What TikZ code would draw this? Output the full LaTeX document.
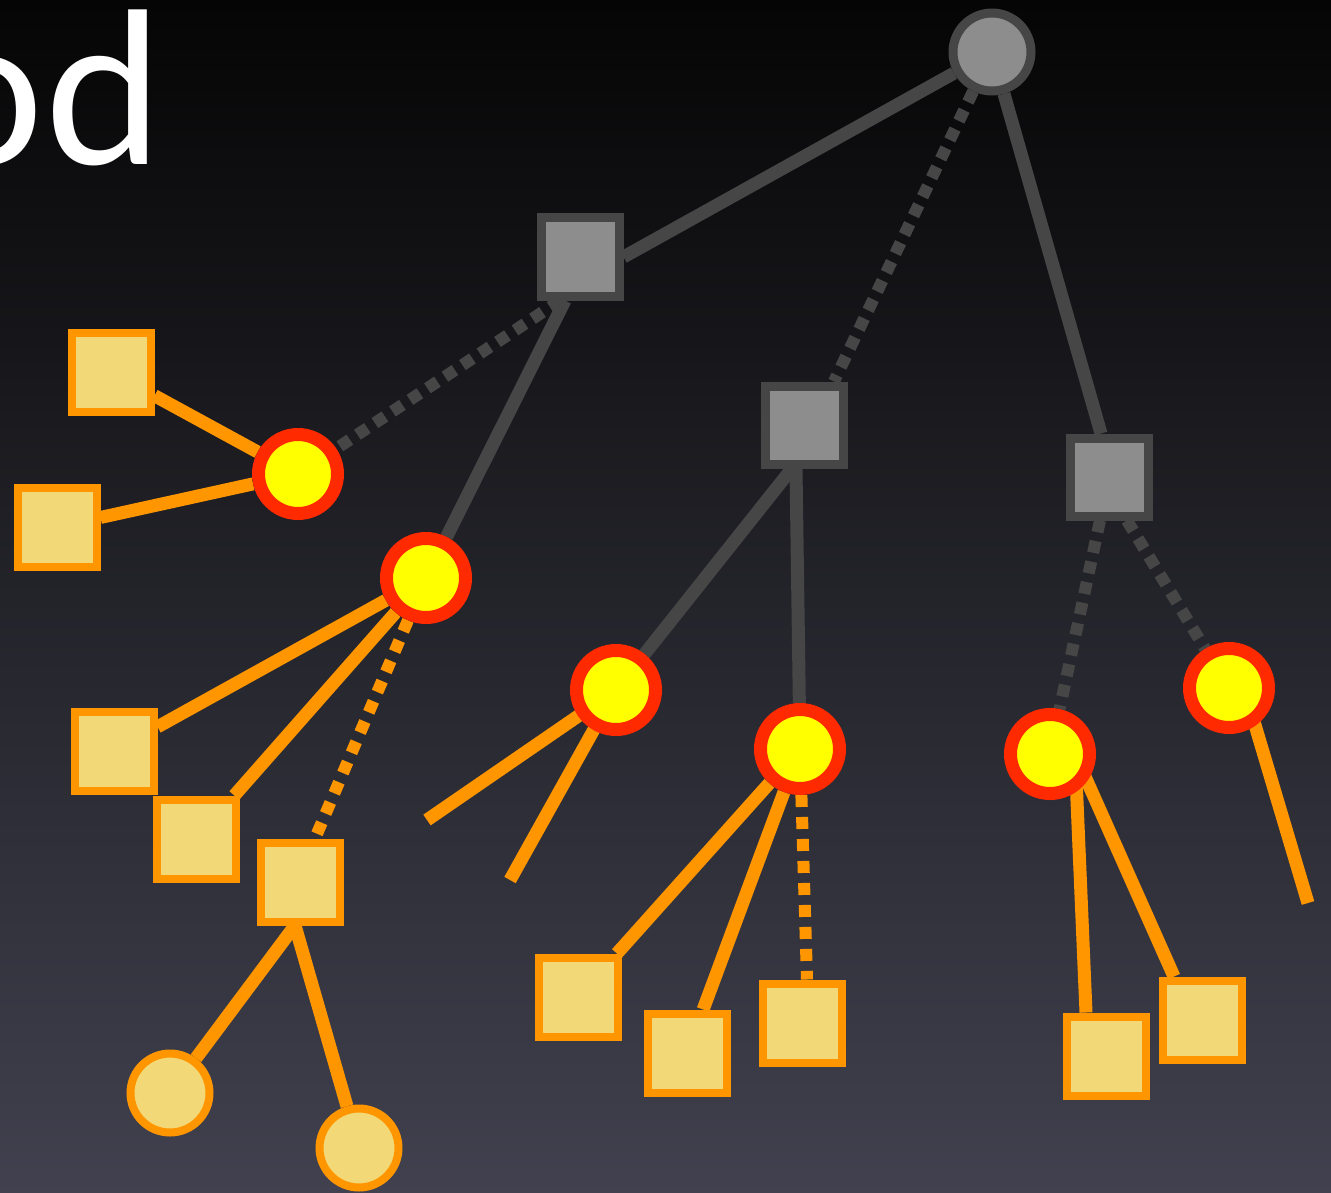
\documentclass[tikz,border=0pt]{standalone}
\usepackage{fontspec}
\setmainfont{Lato}
\pgfdeclarelayer{bg}
\pgfdeclarelayer{edges}
\pgfsetlayers{bg,edges,main}
\definecolor{edgegray}{HTML}{464646}
\definecolor{fillgray}{HTML}{8D8D8D}
\definecolor{ringred}{HTML}{FF2A00}
\definecolor{coreyellow}{HTML}{FFFF00}
\definecolor{leaforange}{HTML}{FF9600}
\definecolor{leaffill}{HTML}{F3D878}
\definecolor{bgtop}{HTML}{050505}
\definecolor{bgmid}{HTML}{1F1F26}
\definecolor{bgbot}{HTML}{41414F}
\tikzset{
  graysq/.style={rectangle, draw=edgegray, fill=fillgray, line width=9pt, minimum size=78pt, inner sep=0pt},
  grayroot/.style={circle, draw=edgegray, fill=fillgray, line width=9pt, minimum size=78pt, inner sep=0pt},
  hotdot/.style={circle, draw=ringred, fill=coreyellow, line width=13pt, minimum size=79pt, inner sep=0pt},
  leafsq/.style={rectangle, draw=leaforange, fill=leaffill, line width=8pt, minimum size=79pt, inner sep=0pt},
  leafdot/.style={circle, draw=leaforange, fill=leaffill, line width=8pt, minimum size=79pt, inner sep=0pt},
  gedge/.style={draw=edgegray, line width=13pt},
  gdots/.style={draw=edgegray, line width=12pt, dash pattern=on 12pt off 9pt},
  oedge/.style={draw=leaforange, line width=13pt},
  odots/.style={draw=leaforange, line width=12pt, dash pattern=on 12pt off 10pt},
}
\begin{document}
\begin{tikzpicture}[x=1pt,y=-1pt]
\useasboundingbox (0,0) rectangle (1331,1193);
\clip (0,0) rectangle (1331,1193);
\begin{pgfonlayer}{bg}
  \shade[top color=bgtop, middle color=bgmid, bottom color=bgbot] (0,0) rectangle (1331,1193);
\end{pgfonlayer}

% heading fragment
\node[anchor=base east, text=white, inner sep=0pt, font=\fontsize{210}{210}\selectfont] (title) at (162,165) {od};

% gray upper tree
\node[grayroot] (root) at (992,52) {};
\node[graysq] (A) at (580,257) {};
\node[graysq] (B) at (804,425) {};
\node[graysq] (C) at (1109,477) {};

% red/yellow dots
\node[hotdot] (R1) at (298,474) {};
\node[hotdot] (R2) at (426,578) {};
\node[hotdot] (R3) at (616,690) {};
\node[hotdot] (R4) at (800,749) {};
\node[hotdot] (R5) at (1050,754) {};
\node[hotdot] (R6) at (1229,688) {};

% leaf squares
\node[leafsq] (S1) at (111,372) {};
\node[leafsq] (S2) at (57,527) {};
\node[leafsq] (S3) at (114,751) {};
\node[leafsq] (S4) at (196,839) {};
\node[leafsq] (S5) at (300,882) {};
\node[leafsq] (S6) at (578,997) {};
\node[leafsq] (S7) at (687,1053) {};
\node[leafsq] (S8) at (802,1023) {};
\node[leafsq] (S9) at (1106,1056) {};
\node[leafsq] (S10) at (1202,1020) {};

% leaf circles
\node[leafdot] (L1) at (170,1093) {};
\node[leafdot] (L2) at (359,1148) {};

% loose ends
\coordinate (e1) at (427,820);
\coordinate (e2) at (510,880);
\coordinate (e3) at (1308,903);

\begin{pgfonlayer}{edges}
  \draw[gedge] (root) -- (A.east);
  \draw[gedge] (root) -- ([xshift=-8pt]C.north);
  \draw[gdots] (root) -- ([xshift=30pt]B.north);
  \draw[gedge] ([xshift=-15pt]A.south) -- (R2);
  \draw[gdots] ([xshift=-20pt]A.south) -- (R1);
  \draw[gedge] ([xshift=-12pt]B.south) -- (R3);
  \draw[gedge] ([xshift=-8pt]B.south) -- (R4);
  \draw[gdots] ([xshift=-9pt]C.south) -- (R5);
  \draw[gdots] ([xshift=18pt]C.south) -- (R6);

  \draw[oedge] (R1) -- (S1);
  \draw[oedge] (R1) -- (S2);
  \draw[oedge] (R2) -- (S3);
  \draw[oedge] (R2) -- (S4);
  \draw[odots] (R2) -- ([xshift=15pt]S5.north);
  \draw[oedge] (R3.center) -- (e1);
  \draw[oedge] (R3.center) -- (e2);
  \draw[oedge] (R4) -- (S6);
  \draw[oedge] (R4) -- (S7);
  \draw[odots] (R4) -- ([xshift=5pt]S8.north);
  \draw[oedge] ([xshift=25pt]R5.center) -- ([xshift=-20pt]S9.north);
  \draw[oedge] ([xshift=25pt]R5.center) -- ([xshift=-28pt]S10.north);
  \draw[oedge] ([xshift=15pt]R6.center) -- (e3);
  \draw[oedge] ([xshift=-5pt]S5.south) -- (L1);
  \draw[oedge] ([xshift=-5pt]S5.south) -- (L2);
\end{pgfonlayer}
\end{tikzpicture}
\end{document}
